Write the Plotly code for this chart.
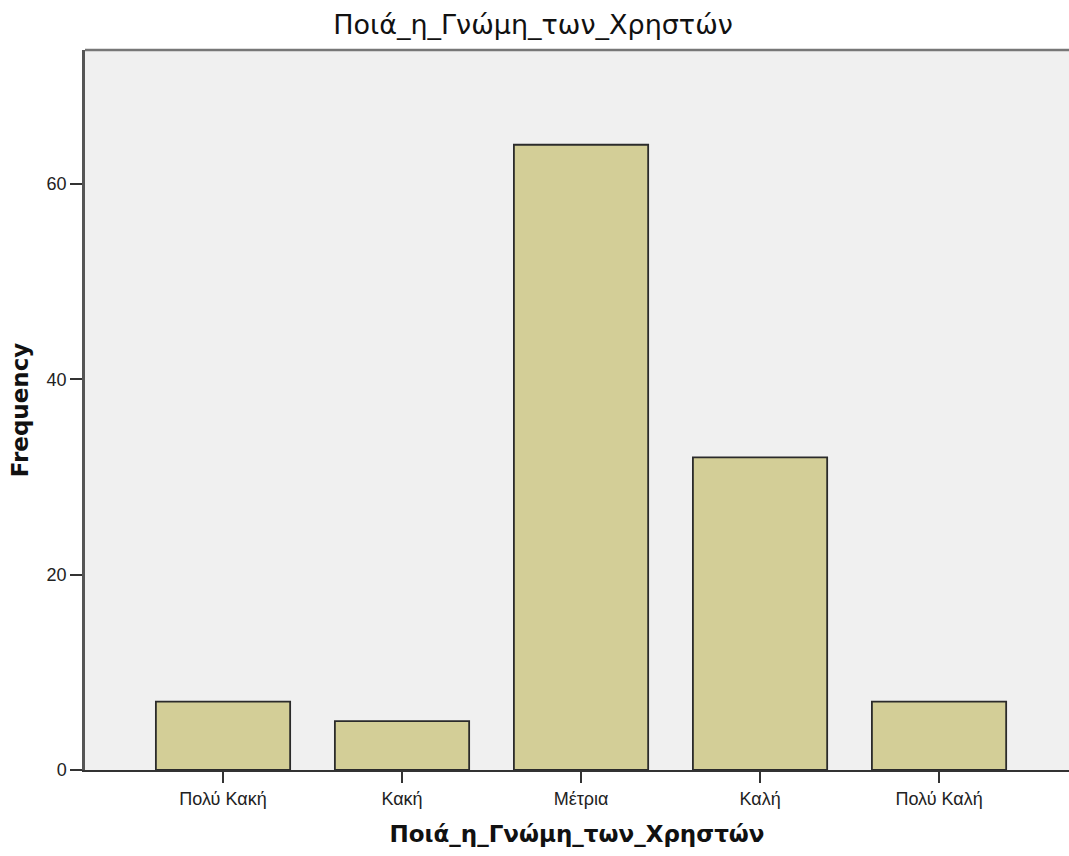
import plotly.graph_objects as go

categories = ["Πολύ Κακή", "Κακή", "Μέτρια", "Καλή", "Πολύ Καλή"]
frequencies = [7, 5, 64, 32, 7]
y_ticks = [0, 20, 40, 60]

title_text = "Ποιά_η_Γνώμη_των_Χρηστών"

fig = go.Figure()
fig.add_trace(go.Bar(
    x=list(range(len(categories))),
    y=frequencies,
    width=0.75,
    marker=dict(color="#D3CE97", line=dict(color="#2b2b2b", width=1.8)),
    showlegend=False,
))

fig.update_layout(
    width=1069, height=856,
    margin=dict(l=85, r=0, t=50, b=86),
    paper_bgcolor="white",
    plot_bgcolor="#F0F0F0",
    font=dict(family="Liberation Sans, Arial, sans-serif", color="#222222"),
    title=dict(text=title_text, x=533 / 1069, xanchor="center", y=1 - 25 / 856, yanchor="middle",
               font=dict(family="DejaVu Sans", size=27, color="#111111")),
)

fig.update_xaxes(
    range=[-0.771, 4.726],
    tickmode="array",
    tickvals=list(range(len(categories))),
    ticktext=categories,
    ticks="outside", ticklen=11, tickwidth=1.5, tickcolor="#333333",
    tickfont=dict(size=18, color="#222222"),
    showline=True, linecolor="#333333", linewidth=2,
    showgrid=False, zeroline=False,
    title=dict(text="<b>" + title_text + "</b>",
               font=dict(family="DejaVu Sans", size=23, color="#111111"), standoff=18),
)

fig.update_yaxes(
    range=[0, 73.7],
    tickmode="array",
    tickvals=y_ticks,
    ticks="outside", ticklen=12, tickwidth=1.5, tickcolor="#333333",
    tickfont=dict(size=18, color="#222222"),
    showline=True, linecolor="#555555", linewidth=2.5,
    showgrid=False, zeroline=False,
    title=dict(text="<b>Frequency</b>",
               font=dict(family="DejaVu Sans", size=23, color="#111111"), standoff=12),
)

# top border of the plot area
fig.add_shape(type="line", xref="paper", yref="paper", x0=0, x1=1, y0=1, y1=1,
              line=dict(color="#777777", width=2.5))

fig.write_html("out.html",
               config={"displayModeBar": False},
               post_script="document.body.style.margin='0';document.body.style.overflow='hidden';")
